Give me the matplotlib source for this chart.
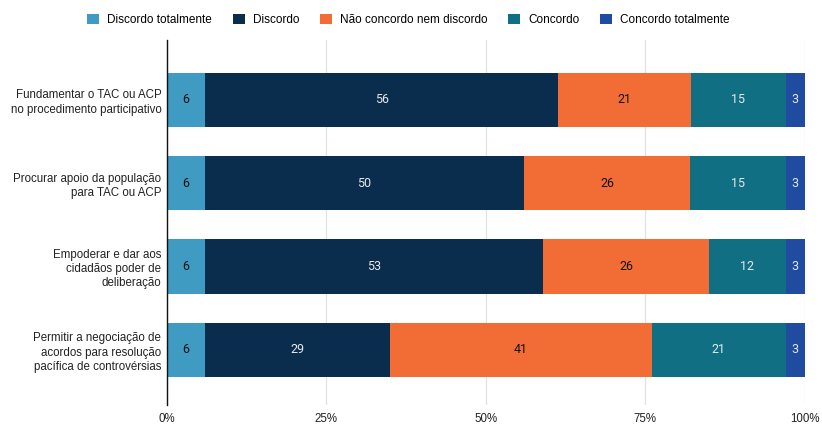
import matplotlib.pyplot as plt
import numpy as np

# Respostas por item (percentual de cada categoria)
itens = [
    "Fundamentar o TAC ou ACP\nno procedimento participativo",
    "Procurar apoio da população\npara TAC ou ACP",
    "Empoderar e dar aos\ncidadãos poder de\ndeliberação",
    "Permitir a negociação de\nacordos para resolução\npacífica de controvérsias",
]
categorias = ["Discordo totalmente", "Discordo", "Não concordo nem discordo",
              "Concordo", "Concordo totalmente"]
discordo_tot = [6, 6, 6, 6]
discordo = [56, 50, 53, 29]
neutro = [21, 26, 26, 41]
concordo = [15, 15, 12, 21]
concordo_tot = [3, 3, 3, 3]

cores = ["#3f9bc1", "#0a2d4d", "#f26d35", "#116f84", "#1f4ba0"]
cor_texto = ["#111111", "#e8e8e8", "#111111", "#e8e8e8", "#e8e8e8"]

series = np.array([discordo_tot, discordo, neutro, concordo, concordo_tot], dtype=float)
proporcao = series / series.sum(axis=0)

fig = plt.figure(figsize=(8.22, 4.24), dpi=100)
ax = fig.add_axes([0.203, 0.045, 0.776, 0.861])

y = np.arange(len(itens))
esquerda = np.zeros(len(itens))
for i, nome in enumerate(categorias):
    barras = ax.barh(y, proporcao[i], left=esquerda, height=0.65,
                     color=cores[i], label=nome, zorder=3)
    for j, b in enumerate(barras):
        ax.text(b.get_x() + b.get_width() / 2, b.get_y() + b.get_height() / 2,
                f"{series[i][j]:.0f}", ha="center", va="center",
                fontsize=9, color=cor_texto[i], family="Roboto", zorder=4)
    esquerda += proporcao[i]

ax.set_xlim(0, 1)
ax.set_ylim(3.66, -0.72)
ax.set_yticks(y)
ax.set_yticklabels(itens, fontsize=8.3, family="Liberation Sans", color="#222222",
                   linespacing=1.25)
ax.set_xticks([0, 0.25, 0.5, 0.75, 1.0])
ax.set_xticklabels(["0%", "25%", "50%", "75%", "100%"], fontsize=8.3,
                   family="Liberation Sans", color="#222222")
ax.tick_params(length=0)
ax.tick_params(axis="x", pad=6)
ax.tick_params(axis="y", pad=4)
ax.grid(axis="x", color="#e2e2e2", linewidth=0.9, zorder=0)
for lado in ["top", "right", "bottom"]:
    ax.spines[lado].set_visible(False)
ax.spines["left"].set_color("#111111")
ax.spines["left"].set_linewidth(1)
ax.spines["left"].set_zorder(5)

fig.legend(loc="upper center", bbox_to_anchor=(0.497, 0.993), ncol=5, frameon=False,
           prop={"family": "Liberation Sans", "size": 8.5}, handlelength=1.0,
           handleheight=1.0, handletextpad=0.7, columnspacing=1.75)

plt.savefig("out.png", dpi=100)
